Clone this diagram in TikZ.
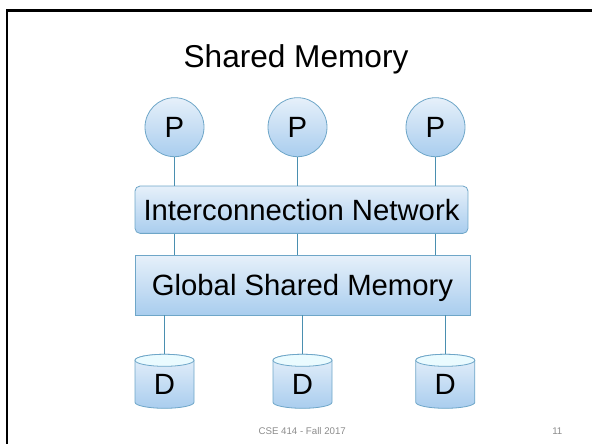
\documentclass[tikz,border=0pt]{standalone}
\usepackage{fontspec}
\setmainfont{Liberation Sans}
\definecolor{boxtop}{HTML}{E6F0FA}
\definecolor{boxbot}{HTML}{A9CDEE}
\definecolor{boxline}{HTML}{6EA6C8}
\definecolor{wire}{HTML}{4A8FB0}
\definecolor{cyltop}{HTML}{EAFBFF}
\definecolor{foot}{HTML}{8C8C8C}
\tikzset{
  bigtext/.style={font=\fontsize{29.3}{34}\selectfont, text depth=0pt},
  pcircle/.style={circle, draw=boxline, line width=0.8pt, top color=boxtop, bottom color=boxbot,
    minimum size=59pt, inner sep=0pt, bigtext},
  netbox/.style={rectangle, rounded corners=5pt, draw=boxline, line width=0.8pt, top color=boxtop, bottom color=boxbot,
    inner sep=0pt, bigtext},
  membox/.style={rectangle, draw=boxline, line width=0.8pt, top color=boxtop, bottom color=boxbot,
    inner sep=0pt, bigtext},
  dlabel/.style={rectangle, draw=none, minimum width=59pt, minimum height=60.4pt, inner sep=0pt, bigtext},
  cylbody/.style={draw=boxline, line width=0.8pt, top color=boxtop, bottom color=boxbot},
  cylcap/.style={draw=boxline, line width=0.8pt, fill=cyltop},
  wireline/.style={draw=wire, line width=0.8pt},
  foottext/.style={font=\fontsize{9.7}{11}\selectfont, text=foot, inner sep=0pt, anchor=base}
}
\newcommand{\drawcyl}[1]{%
  \path[cylbody, shift={(#1.center)}] (-29.5,-24.2) -- (-29.5,17.8)
     arc[start angle=180, end angle=360, x radius=29.5pt, y radius=6pt]
     -- (29.5,-24.2)
     arc[start angle=0, end angle=180, x radius=29.5pt, y radius=6pt] -- cycle;
  \path[cylcap, shift={(#1.center)}] (0,-24.2) ellipse[x radius=29.5pt, y radius=6pt];
}
\begin{document}
\begin{tikzpicture}[x=1pt, y=-1pt]
\useasboundingbox (0,0) rectangle (592,444);
% slide frame (top and left edges)
\draw[line width=2.3pt] (7.2,444) -- (7.2,10.5) -- (592,10.5);
% title
\node[font=\fontsize{31.6}{38}\selectfont, anchor=base, inner sep=0pt] (title) at (296,68) {Shared Memory};
% processors
\node[pcircle] (p1) at (174.5,127.2) {P};
\node[pcircle] (p2) at (297.5,127.2) {P};
\node[pcircle] (p3) at (435.5,127.2) {P};
% interconnection network
\node[netbox, minimum width=333pt, minimum height=47.3pt] (net) at (301.5,209.7) {Interconnection Network};
% global shared memory
\node[membox, minimum width=335pt, minimum height=59.3pt] (gsm) at (302.5,285.3) {Global Shared Memory};
% disks
\node[dlabel] (d1) at (164.5,384.5) {};
\node[dlabel] (d2) at (302.5,384.5) {};
\node[dlabel] (d3) at (445.3,384.5) {};
\drawcyl{d1}
\drawcyl{d2}
\drawcyl{d3}
\node[dlabel] at (d1.center) {D};
\node[dlabel] at (d2.center) {D};
\node[dlabel] at (d3.center) {D};
% connectors
\foreach \p in {p1,p2,p3}{
  \path[wireline] (\p.south) -- (\p.south |- net.north);
  \path[wireline] (\p.south |- net.south) -- (\p.south |- gsm.north);
}
\foreach \d in {d1,d2,d3}{
  \path[wireline] (\d.north |- gsm.south) -- (\d.north);
}
% footer
\node[foottext] (foot) at (302.2,434.3) {CSE 414 - Fall 2017};
\node[foottext] (page) at (557.3,434.5) {11};
\end{tikzpicture}
\end{document}
